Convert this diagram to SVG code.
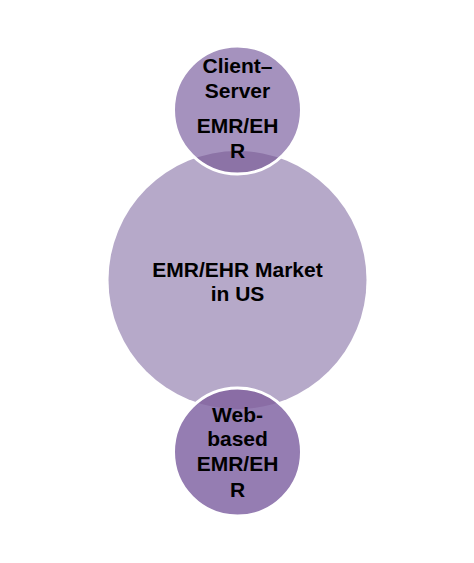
<svg xmlns="http://www.w3.org/2000/svg" width="474" height="563" viewBox="0 0 474 563">
<style>
.t{font-family:"Liberation Sans",Arial,sans-serif;font-weight:bold;font-size:21px;fill:#000;text-anchor:middle}
</style>
<defs>
<clipPath id="bigclip"><circle cx="237.5" cy="280" r="129"/></clipPath>
</defs>
<rect width="474" height="563" fill="#fff"/>
<g id="center">
<circle cx="237.5" cy="280" r="129" fill="#B6A9C9"/>
<text class="t" x="237.5" y="277">EMR/EHR Market</text>
<text class="t" x="237.5" y="301">in US</text>
</g>
<g id="connectors"></g>
<g id="top">
<circle cx="237.5" cy="110" r="64" fill="#A592BE"/>
<circle cx="237.5" cy="110" r="64" fill="#8C73A6" clip-path="url(#bigclip)"/>
<circle cx="237.5" cy="110" r="64" fill="none" stroke="#fff" stroke-width="3"/>
<text class="t" x="237.5" y="73">Client–</text>
<text class="t" x="237.5" y="98">Server</text>
<text class="t" x="237.5" y="133">EMR/EH</text>
<text class="t" x="237.5" y="158">R</text>
</g>
<g id="bottom">
<circle cx="237.5" cy="452" r="64" fill="#957DB2"/>
<circle cx="237.5" cy="452" r="64" fill="#8A6DA5" clip-path="url(#bigclip)"/>
<circle cx="237.5" cy="452" r="64" fill="none" stroke="#fff" stroke-width="3"/>
<text class="t" x="237.5" y="422">Web-</text>
<text class="t" x="237.5" y="446">based</text>
<text class="t" x="237.5" y="471">EMR/EH</text>
<text class="t" x="237.5" y="497">R</text>
</g>
</svg>
